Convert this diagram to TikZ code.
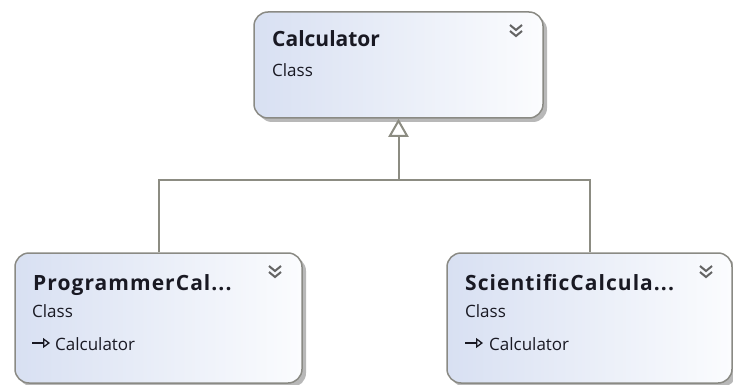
\documentclass[tikz,border=0pt]{standalone}
\usepackage{fontspec}
\setmainfont{Open Sans}
\usetikzlibrary{arrows.meta,shadows}
\definecolor{boxL}{RGB}{216,224,242}
\definecolor{boxR}{RGB}{251,252,254}
\definecolor{edge}{RGB}{138,138,132}
\definecolor{conn}{RGB}{140,140,130}
\definecolor{txt}{RGB}{25,25,35}
\definecolor{chev}{RGB}{100,100,100}
\tikzset{
  classbox/.style={draw=edge, line width=1.5pt, rounded corners=14pt,
    left color=boxL, right color=boxR, inner sep=0pt,
    drop shadow={shadow xshift=4pt, shadow yshift=-4pt, fill=black!28, opacity=1}},
  ttl/.style={anchor=base west, inner sep=0pt, text=txt, font=\fontsize{21}{24}\selectfont\bfseries},
  ttlw/.style={ttl, font=\fontsize{21}{24}\selectfont\bfseries\addfontfeature{LetterSpace=5}},
  sub/.style={anchor=base west, inner sep=0pt, text=txt, font=\fontsize{17}{20}\selectfont},
  conline/.style={draw=conn, line width=2pt},
  gen/.style={conline, -{Triangle[open, length=18pt, width=20pt, line width=2pt]}},
  icon/.style={draw=txt, line width=1.3pt, -{Triangle[open, length=7pt, width=10pt, line width=1.3pt]}},
  chevs/.pic={
    \draw[chev, line width=2pt] (-6,-6) -- (0,-1) -- (6,-6);
    \draw[chev, line width=2pt] (-6,0) -- (0,5) -- (6,0);
  }
}
\begin{document}
\begin{tikzpicture}[x=1pt, y=-1pt]
\useasboundingbox (0,0) rectangle (733,385);
% boxes
\node[classbox, minimum width=289pt, minimum height=106pt] (calc) at (398.5,65) {};
\node[classbox, minimum width=287pt, minimum height=130pt] (prog) at (158.5,318) {};
\node[classbox, minimum width=285pt, minimum height=130pt] (sci) at (589.5,318) {};
% texts
\node[ttl] (calcT) at (272,47) {Calculator};
\node[sub] (calcC) at (272,77) {Class};
\node[ttlw] (progT) at (33,290) {ProgrammerCal...};
\node[sub] (progC) at (32,317) {Class};
\node[sub] (progB) at (55,350) {Calculator};
\node[ttlw] (sciT) at (465,290) {ScientificCalcula...};
\node[sub] (sciC) at (465,317) {Class};
\node[sub] (sciB) at (489,350) {Calculator};
% icons
\coordinate (pi1) at (32,343); \coordinate (pi2) at (50,343);
\draw[icon] (pi1) -- (pi2);
\coordinate (si1) at (465,343); \coordinate (si2) at (483,343);
\draw[icon] (si1) -- (si2);
% chevrons
\pic at (516,31) {chevs};
\pic at (275,272) {chevs};
\pic at (706,272) {chevs};
% connectors
\coordinate (j) at (398.5,180);
\draw[conline] (prog.north) |- (j) -| (sci.north);
\draw[gen] (j) -- (calc.south);
\end{tikzpicture}
\end{document}
